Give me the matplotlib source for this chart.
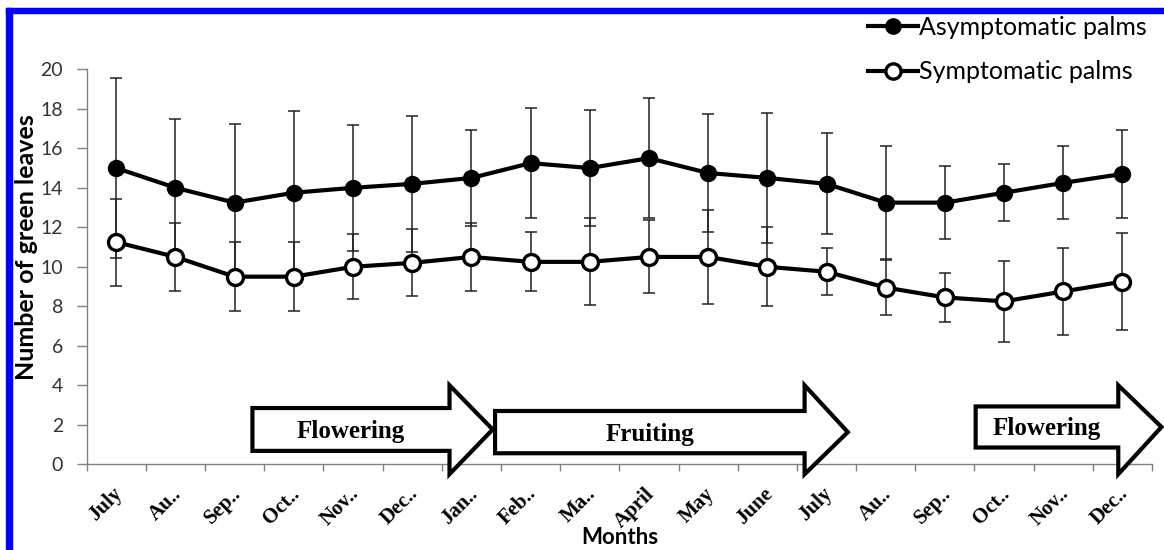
#!/usr/bin/env python3
"""
Number of green leaves per month, asymptomatic vs symptomatic palms,
with phenology phases (flowering / fruiting) drawn as block arrows.
"""
import matplotlib
matplotlib.use("Agg")
import matplotlib.pyplot as plt
import matplotlib.patches as mpatches
import matplotlib.transforms as mtransforms
from matplotlib.lines import Line2D
import numpy as np

# ---------------------------------------------------------------------------
# Data
# ---------------------------------------------------------------------------
MONTHS = ["July", "Au..", "Sep..", "Oct..", "Nov..", "Dec..", "Jan..", "Feb..",
          "Ma..", "April", "May", "June", "July", "Au..", "Sep..", "Oct..",
          "Nov..", "Dec.."]

ASYM = [15.0, 14.0, 13.25, 13.75, 14.0, 14.2, 14.5, 15.25, 15.0, 15.5,
        14.75, 14.5, 14.2, 13.25, 13.25, 13.75, 14.25, 14.7]
ASYM_SD = [4.55, 3.5, 4.0, 4.15, 3.2, 3.45, 2.45, 2.8, 2.95, 3.05,
           3.0, 3.3, 2.55, 2.85, 1.85, 1.45, 1.85, 2.25]

SYM = [11.25, 10.5, 9.5, 9.5, 10.0, 10.2, 10.5, 10.25, 10.25, 10.5,
       10.5, 10.0, 9.75, 8.95, 8.45, 8.25, 8.75, 9.25]
SYM_SD = [2.2, 1.7, 1.75, 1.75, 1.65, 1.7, 1.7, 1.5, 2.2, 1.85,
          2.4, 2.0, 1.2, 1.4, 1.25, 2.05, 2.2, 2.45]

# phases: label, start, end (month index units), body bottom/top (y units)
PHASE_LABELS = ["Flowering", "Fruiting", "Flowering"]
PHASE_START = [2.3, 6.4, 14.52]
PHASE_END = [6.36, 12.36, 17.66]
PHASE_BODY = [(0.68, 2.85), (0.56, 2.7), (0.85, 2.93)]
HEAD_Y = (-0.5, 4.0)
HEAD_LEN = 0.73

SANS = ["Lato", "DejaVu Sans"]
SERIF = ["Liberation Serif", "DejaVu Serif"]

# ---------------------------------------------------------------------------
# Figure
# ---------------------------------------------------------------------------
fig = plt.figure(figsize=(11.64, 5.5), dpi=100)
ax = fig.add_axes([0.0745, 0.1558, 0.9152, 0.7182])

x = np.arange(len(MONTHS))

ax.errorbar(x, ASYM, yerr=ASYM_SD, fmt="none", ecolor="#222222",
            elinewidth=1.1, capsize=4.3, capthick=1.1, zorder=2)
ax.errorbar(x, SYM, yerr=SYM_SD, fmt="none", ecolor="#222222",
            elinewidth=1.1, capsize=4.3, capthick=1.1, zorder=2)
ax.plot(x, ASYM, "-o", color="black", lw=3, ms=11.5, mfc="black", mec="black",
        zorder=4)
ax.plot(x, SYM, "-o", color="black", lw=3, ms=11.5, mfc="white", mec="black",
        mew=2.4, zorder=4)

# phase arrows
for label, x0, x1, (b0, b1) in zip(PHASE_LABELS, PHASE_START, PHASE_END, PHASE_BODY):
    hb = x1 - HEAD_LEN
    ymid = (b0 + b1) / 2
    pts = [(x0, b0), (hb, b0), (hb, HEAD_Y[0]), (x1, ymid),
           (hb, HEAD_Y[1]), (hb, b1), (x0, b1)]
    poly = mpatches.Polygon(pts, closed=True, facecolor="white",
                            edgecolor="black", lw=3, joinstyle="miter",
                            clip_on=False, zorder=5)
    ax.add_patch(poly)
    ax.text((x0 + hb) / 2, ymid - 0.1, label, ha="center", va="center",
            family=SERIF, fontweight="bold", fontsize=18, zorder=6)

ax.set_xlim(-0.5, len(MONTHS) - 0.5)
ax.set_ylim(0, 20)
ax.set_yticks(np.arange(0, 21, 2))
ax.set_yticklabels([str(v) for v in range(0, 21, 2)], family=SANS,
                   fontsize=14, color="#333333")
ax.set_xticks(x)
ax.set_xticklabels(MONTHS, rotation=45, ha="right", family=SERIF,
                   fontweight="bold", fontsize=15)
ax.set_xticks(np.arange(-0.5, len(MONTHS)), minor=True)
ax.tick_params(axis="x", which="major", length=0, pad=14)
ax.tick_params(axis="x", which="minor", length=5, width=1, color="#808080")
ax.tick_params(axis="y", length=7, width=1, color="#808080", pad=10)

# nudge month labels a little to the right, like the original
shift = mtransforms.ScaledTranslation(10 / 100, 0, fig.dpi_scale_trans)
for lbl in ax.get_xticklabels():
    lbl.set_transform(lbl.get_transform() + shift)

for side in ("top", "right"):
    ax.spines[side].set_visible(False)
for side in ("left", "bottom"):
    ax.spines[side].set_color("#808080")
    ax.spines[side].set_linewidth(1)

ax.set_ylabel("Number of green leaves", family=SANS, fontweight="bold",
              fontsize=18)
ax.yaxis.set_label_coords(-0.0455, 0.55)
fig.text(620 / 1164, 1 - 537 / 550, "Months", family=SANS, fontweight="bold",
         fontsize=16, ha="center", va="center")

# legend
handles = [
    Line2D([], [], color="black", lw=3, marker="o", ms=11, mfc="black", mec="black"),
    Line2D([], [], color="black", lw=3, marker="o", ms=11, mfc="white",
           mec="black", mew=2.4),
]
fig.legend(handles, ["Asymptomatic palms", "Symptomatic palms"],
           loc="upper left", bbox_to_anchor=(868 / 1164, 1 - 16 / 550),
           frameon=False, borderpad=0, borderaxespad=0, handlelength=2.0,
           handletextpad=0.05, labelspacing=0.85,
           prop={"family": SANS, "size": 18})

# blue frame (left and top edges)
fig.patches.append(mpatches.Rectangle((6 / 1164, 0), 6 / 1164, 1 - 8 / 550,
                                      transform=fig.transFigure,
                                      color="#0000FF", zorder=10))
fig.patches.append(mpatches.Rectangle((6 / 1164, 1 - 13 / 550), 1, 5 / 550,
                                      transform=fig.transFigure,
                                      color="#0000FF", zorder=10))

fig.savefig("out.png", dpi=100)
